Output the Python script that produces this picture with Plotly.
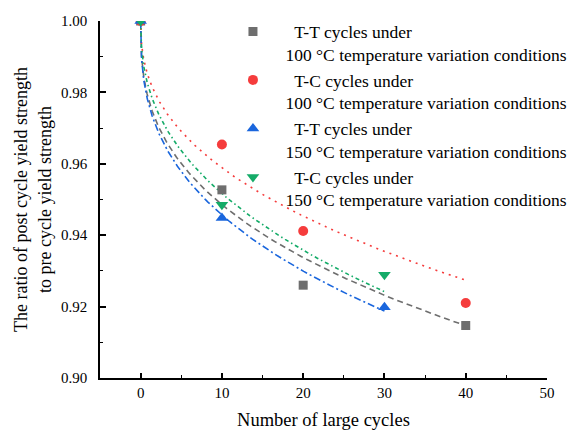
import numpy as np
import plotly.graph_objects as go

# ---- data ----
tt100_x = [0, 10, 20, 40]
tt100_y = [1.0, 0.9527, 0.926, 0.9147]
tc100_x = [0, 10, 20, 40]
tc100_y = [1.0, 0.9654, 0.9412, 0.9210]
tt150_x = [0, 10, 30]
tt150_y = [1.0, 0.9448, 0.9198]
tc150_x = [0, 10, 30]
tc150_y = [1.0, 0.9485, 0.9289]

# power-law fit parameters y = 1 - a * x^b
fit_tt100 = (0.0222, 0.365, 40)
fit_tc100 = (0.0160, 0.410, 40)
fit_tt150 = (0.0234, 0.366, 30)
fit_tc150 = (0.0188, 0.410, 30)

names = [
    "\u00a0\u00a0T-T cycles under<br>100 °C temperature variation conditions",
    "\u00a0\u00a0T-C cycles under<br>100 °C temperature variation conditions",
    "\u00a0\u00a0T-T cycles under<br>150 °C temperature variation conditions",
    "\u00a0\u00a0T-C cycles under<br>150 °C temperature variation conditions",
]
colors = ["#6e6e6e", "#f53c3c", "#1a66dd", "#14ab68"]
symbols = ["square", "circle", "triangle-up", "triangle-down"]
sizes = [9, 10, 11, 11]
dashes = ["6px,4px", "2px,5px", "7px,3px,2px,3px", "4px,3px,1.5px,3px"]

series = [(tt100_x, tt100_y, fit_tt100), (tc100_x, tc100_y, fit_tc100),
          (tt150_x, tt150_y, fit_tt150), (tc150_x, tc150_y, fit_tc150)]

fig = go.Figure()
for (xs, ys, (a, b, xmax)), c, d in zip(series, colors, dashes):
    xf = np.concatenate([[0.0], np.geomspace(0.01, xmax, 200)])
    yf = 1 - a * xf ** b
    fig.add_trace(go.Scatter(x=xf, y=yf, mode="lines", showlegend=False,
                             line=dict(color=c, width=1.6, dash=d), hoverinfo="skip"))
for (xs, ys, _), c, s, sz, n in zip(series, colors, symbols, sizes, names):
    fig.add_trace(go.Scatter(x=xs, y=ys, mode="markers", name=n,
                             marker=dict(color=c, symbol=s, size=sz, line=dict(width=0))))

font = "Liberation Serif, Times New Roman, serif"
fig.update_layout(
    width=588, height=430,
    margin=dict(l=100, r=41, t=21, b=52, autoexpand=False),
    plot_bgcolor="white", paper_bgcolor="white",
    font=dict(family=font, size=15, color="black"),
    showlegend=True,
    legend=dict(x=0.2695, y=1.021, xanchor="left", yanchor="top",
                bgcolor="rgba(0,0,0,0)", font=dict(size=17.5, family=font),
                valign="top", tracegroupgap=0, itemwidth=55),
)
fig.update_xaxes(range=[-5, 50], tickvals=[0, 10, 20, 30, 40, 50],
                 showline=True, linecolor="black", linewidth=1.5,
                 ticks="inside", ticklen=5, tickwidth=1.5, tickcolor="black",
                 minor=dict(ticks="inside", ticklen=3, tickwidth=1.2, tickcolor="black", dtick=5),
                 showgrid=False, zeroline=False, automargin=False,
                 title=dict(text="Number of large cycles", font=dict(size=18.5), standoff=14))
fig.update_yaxes(range=[0.90, 1.00], tickvals=[0.90, 0.92, 0.94, 0.96, 0.98, 1.00],
                 tickformat=".2f", ticklabelstandoff=8,
                 showline=True, linecolor="black", linewidth=1.5,
                 ticks="inside", ticklen=6, tickwidth=1.5, tickcolor="black",
                 minor=dict(ticks="inside", ticklen=3, tickwidth=1.2, tickcolor="black", dtick=0.01),
                 showgrid=False, zeroline=False, automargin=False,
                 title=dict(text="The ratio of post cycle yield strength<br>to pre cycle yield strength",
                            font=dict(size=18), standoff=5))
fig.write_html("out.html", config={"displayModeBar": False},
               post_script="document.body.style.margin='0';")
